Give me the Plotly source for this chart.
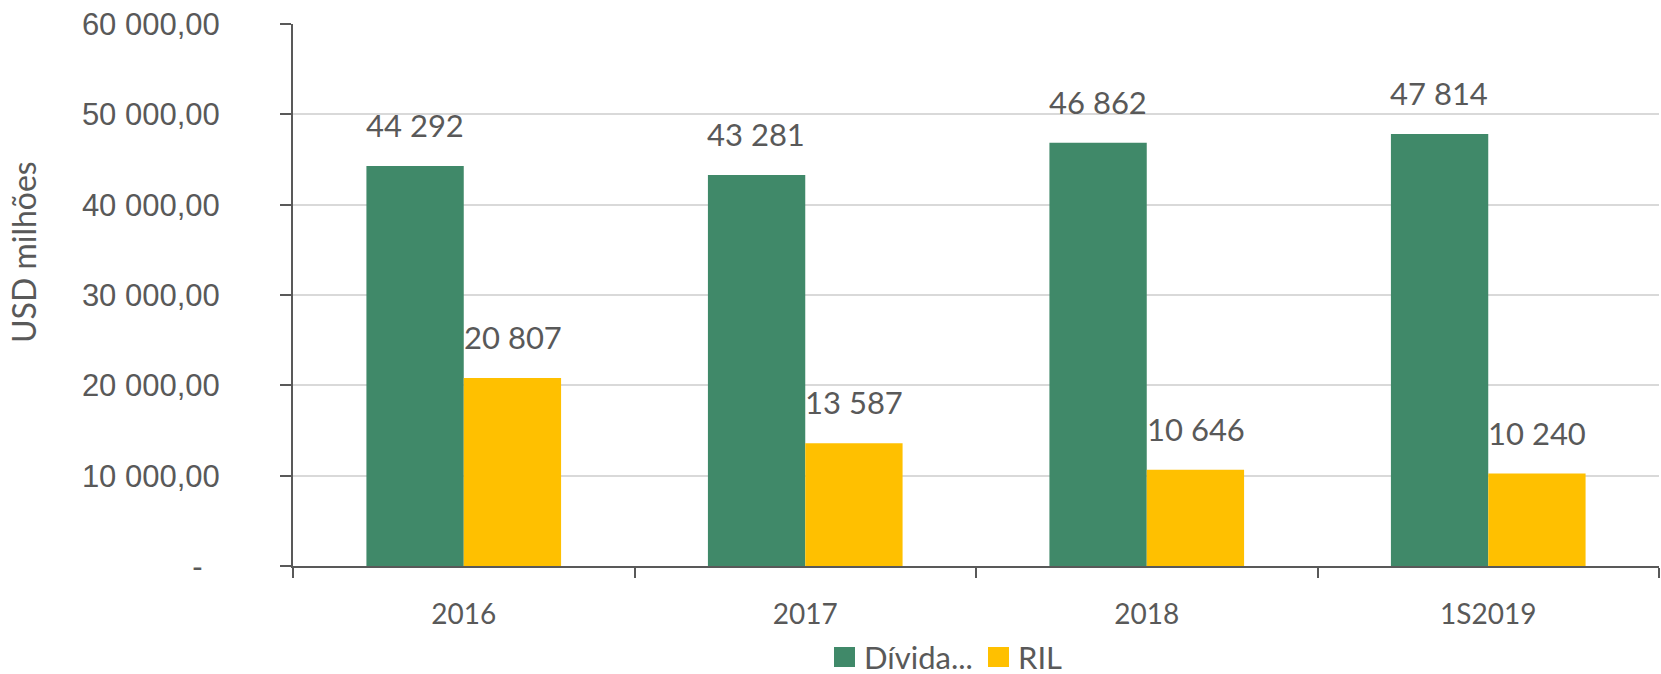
import plotly.graph_objects as go

categories = ["2016", "2017", "2018", "1S2019"]
divida = [44292, 43281, 46862, 47814]
ril = [20807, 13587, 10646, 10240]
series_names = ["Dívida...", "RIL"]
y_tickvals = [0, 10000, 20000, 30000, 40000, 50000, 60000]

GREEN = "#408969"
YELLOW = "#FFC000"
TXT = "#595959"
W, H = 1661, 674
ML, MR, MT, MB = 293, 2, 24, 108
PW = W - ML - MR
PH = H - MT - MB


def px_x(x):
    return (x - ML) / PW


def px_y(y):
    return (H - MB - y) / PH


def fmt_thousands(v):
    return f"{v:,}".replace(",", " ")


def fmt_tick(v):
    if v == 0:
        return "-\u00a0\u00a0"
    return f"{v:,.2f}".replace(",", " ").replace(".", ",")


fig = go.Figure()
fig.add_trace(go.Bar(x=categories, y=divida, name=series_names[0], marker_color=GREEN,
                     marker_line_width=0, showlegend=False))
fig.add_trace(go.Bar(x=categories, y=ril, name=series_names[1], marker_color=YELLOW,
                     marker_line_width=0, showlegend=False))

label_font = dict(family="Lato, sans-serif", size=31, color=TXT)
ann = []
bar_half_px = 49
for i, v in enumerate(divida):
    ann.append(dict(x=i, y=v, xref="x", yref="y", text=fmt_thousands(v), showarrow=False,
                    xshift=-bar_half_px, yshift=20, yanchor="bottom", font=label_font))
for i, v in enumerate(ril):
    ann.append(dict(x=i, y=v, xref="x", yref="y", text=fmt_thousands(v), showarrow=False,
                    xshift=bar_half_px, yshift=20, yanchor="bottom", font=label_font))

# axis title
ann.append(dict(x=px_x(24), y=px_y(252), xref="paper", yref="paper", text="USD milhões",
                textangle=-90, showarrow=False, xanchor="center", yanchor="middle",
                font=dict(family="Lato, sans-serif", size=32, color=TXT)))

# manual legend
shapes = []
legend_items = [(series_names[0], GREEN, 834), (series_names[1], YELLOW, 988)]
for name, col, x0 in legend_items:
    shapes.append(dict(type="rect", xref="paper", yref="paper", x0=px_x(x0), x1=px_x(x0 + 21),
                       y0=px_y(667), y1=px_y(647), fillcolor=col, line_width=0))
    ann.append(dict(x=px_x(x0 + 28), y=px_y(657), xref="paper", yref="paper", text=name,
                    showarrow=False, xanchor="left", yanchor="middle",
                    font=dict(family="Lato, sans-serif", size=31, color=TXT)))

fig.update_layout(
    width=W, height=H,
    margin=dict(l=ML, r=MR, t=MT, b=MB, autoexpand=False),
    plot_bgcolor="white", paper_bgcolor="white",
    barmode="group", bargap=0.43, bargroupgap=0,
    annotations=ann, shapes=shapes,
    showlegend=False,
)
fig.update_yaxes(
    range=[0, 60000], tickvals=y_tickvals, ticktext=[fmt_tick(v) for v in y_tickvals],
    showgrid=True, gridcolor="#d9d9d9", gridwidth=1.5, zeroline=False,
    showline=True, linecolor=TXT, linewidth=2,
    ticks="outside", ticklen=11, tickwidth=2, tickcolor=TXT,
    ticklabelstandoff=54, automargin=False,
    tickfont=dict(family="Liberation Sans, Arial, sans-serif", size=31, color=TXT),
)
fig.update_xaxes(
    type="category", categoryorder="array", categoryarray=categories,
    range=[-0.5, len(categories) - 0.5],
    tickson="boundaries", ticks="outside", ticklen=10, tickwidth=2,
    tickcolor=TXT, showline=True, linecolor=TXT, linewidth=2, showgrid=False,
    ticklabelstandoff=22, tickangle=0, automargin=False,
    tickfont=dict(family="Lato, sans-serif", size=28, color=TXT),
)

fig.write_html(
    "out.html",
    config={"displayModeBar": False},
    post_script="document.body.style.margin='0';document.body.style.overflow='hidden';",
)
